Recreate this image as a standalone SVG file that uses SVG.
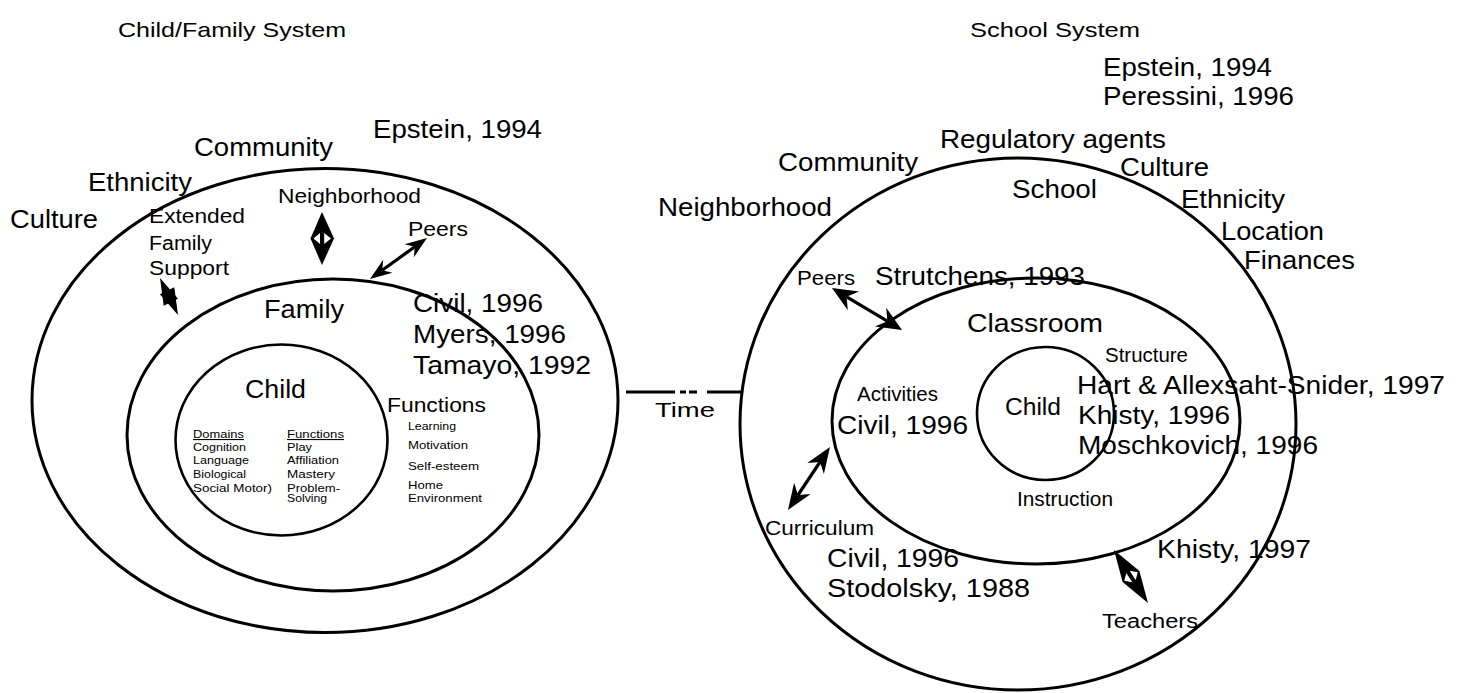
<svg xmlns="http://www.w3.org/2000/svg" width="1463" height="693" viewBox="0 0 1463 693">
  <style>
    text { font-family: "Liberation Sans", Arial, Helvetica, sans-serif; fill: #000; }
    .big { font-size: 25px; }
    .mid { font-size: 20px; }
    .sm { font-size: 11px; }
    .title { font-size: 21px; }
    .ring { fill: none; stroke: #000; stroke-width: 3; }
    .ring-thin { fill: none; stroke: #000; stroke-width: 2.6; }
    .shaft { stroke: #000; stroke-width: 3.2; fill: none; }
    .head { fill: #000; stroke: none; }
    .hole { fill: #fff; stroke: none; }
    .timeline { stroke: #000; stroke-width: 3; fill: none; }
  </style>
  <rect width="1463" height="693" fill="#fff"/>

  <!-- ===== Child / Family system (left) ===== -->
  <g id="child-family-title">
    <text class="title" x="118" y="37" textLength="228" lengthAdjust="spacingAndGlyphs">Child/Family System</text>
  </g>

  <g id="left-community">
    <ellipse class="ring" cx="325" cy="400.5" rx="293" ry="232"/>
    <text class="big" x="373" y="138" textLength="169" lengthAdjust="spacingAndGlyphs">Epstein, 1994</text>
    <text class="big" x="194" y="156" textLength="139" lengthAdjust="spacingAndGlyphs">Community</text>
    <text class="big" x="88" y="191" textLength="104" lengthAdjust="spacingAndGlyphs">Ethnicity</text>
    <text class="big" x="10" y="228" textLength="88" lengthAdjust="spacingAndGlyphs">Culture</text>
    <text class="mid" x="278" y="203" textLength="143" lengthAdjust="spacingAndGlyphs">Neighborhood</text>
    <text class="mid" x="149" y="223" textLength="96" lengthAdjust="spacingAndGlyphs">Extended</text>
    <text class="mid" x="149" y="250" textLength="63" lengthAdjust="spacingAndGlyphs">Family</text>
    <text class="mid" x="149" y="275" textLength="80" lengthAdjust="spacingAndGlyphs">Support</text>
    <text class="mid" x="408" y="236" textLength="60" lengthAdjust="spacingAndGlyphs">Peers</text>
  </g>

  <g id="left-family">
    <ellipse class="ring" cx="333" cy="435" rx="206" ry="156"/>
    <text class="big" x="264" y="318" textLength="80" lengthAdjust="spacingAndGlyphs">Family</text>
    <text class="big" x="413" y="312" textLength="130" lengthAdjust="spacingAndGlyphs">Civil, 1996</text>
    <text class="big" x="413" y="343" textLength="153" lengthAdjust="spacingAndGlyphs">Myers, 1996</text>
    <text class="big" x="413" y="374" textLength="178" lengthAdjust="spacingAndGlyphs">Tamayo, 1992</text>
    <text class="mid" x="387" y="412" textLength="99" lengthAdjust="spacingAndGlyphs">Functions</text>
    <text class="sm" x="408" y="430" textLength="48" lengthAdjust="spacingAndGlyphs">Learning</text>
    <text class="sm" x="408" y="449" textLength="60" lengthAdjust="spacingAndGlyphs">Motivation</text>
    <text class="sm" x="408" y="470" textLength="71" lengthAdjust="spacingAndGlyphs">Self-esteem</text>
    <text class="sm" x="408" y="489" textLength="35" lengthAdjust="spacingAndGlyphs">Home</text>
    <text class="sm" x="408" y="502" textLength="74" lengthAdjust="spacingAndGlyphs">Environment</text>
  </g>

  <g id="left-child">
    <ellipse class="ring-thin" cx="281.5" cy="440" rx="106" ry="95.5"/>
    <text class="big" x="245" y="398" textLength="61" lengthAdjust="spacingAndGlyphs">Child</text>
    <text class="sm" x="193" y="438" textLength="51" lengthAdjust="spacingAndGlyphs" text-decoration="underline">Domains</text>
    <text class="sm" x="193" y="451" textLength="53" lengthAdjust="spacingAndGlyphs">Cognition</text>
    <text class="sm" x="193" y="464" textLength="56" lengthAdjust="spacingAndGlyphs">Language</text>
    <text class="sm" x="193" y="478" textLength="53" lengthAdjust="spacingAndGlyphs">Biological</text>
    <text class="sm" x="193" y="492" textLength="79" lengthAdjust="spacingAndGlyphs">Social Motor)</text>
    <text class="sm" x="287" y="438" textLength="57" lengthAdjust="spacingAndGlyphs" text-decoration="underline">Functions</text>
    <text class="sm" x="287" y="451" textLength="25" lengthAdjust="spacingAndGlyphs">Play</text>
    <text class="sm" x="287" y="464" textLength="52" lengthAdjust="spacingAndGlyphs">Affiliation</text>
    <text class="sm" x="287" y="478" textLength="48" lengthAdjust="spacingAndGlyphs">Mastery</text>
    <text class="sm" x="287" y="492" textLength="53" lengthAdjust="spacingAndGlyphs">Problem-</text>
    <text class="sm" x="287" y="502" textLength="40" lengthAdjust="spacingAndGlyphs">Solving</text>
  </g>

  <!-- ===== School system (right) ===== -->
  <g id="school-title">
    <text class="title" x="970" y="37" textLength="170" lengthAdjust="spacingAndGlyphs">School System</text>
  </g>

  <g id="right-school">
    <ellipse class="ring" cx="1018" cy="424" rx="278" ry="266"/>
    <text class="big" x="1103" y="76" textLength="169" lengthAdjust="spacingAndGlyphs">Epstein, 1994</text>
    <text class="big" x="1103" y="105" textLength="191" lengthAdjust="spacingAndGlyphs">Peressini, 1996</text>
    <text class="big" x="940" y="148" textLength="226" lengthAdjust="spacingAndGlyphs">Regulatory agents</text>
    <text class="big" x="778" y="171" textLength="140" lengthAdjust="spacingAndGlyphs">Community</text>
    <text class="big" x="1120" y="176" textLength="89" lengthAdjust="spacingAndGlyphs">Culture</text>
    <text class="big" x="1012" y="198" textLength="85" lengthAdjust="spacingAndGlyphs">School</text>
    <text class="big" x="1181" y="208" textLength="104" lengthAdjust="spacingAndGlyphs">Ethnicity</text>
    <text class="big" x="658" y="216" textLength="174" lengthAdjust="spacingAndGlyphs">Neighborhood</text>
    <text class="big" x="1221" y="240" textLength="103" lengthAdjust="spacingAndGlyphs">Location</text>
    <text class="big" x="1244" y="269" textLength="111" lengthAdjust="spacingAndGlyphs">Finances</text>
    <text class="mid" x="797" y="285" textLength="58" lengthAdjust="spacingAndGlyphs">Peers</text>
    <text class="mid" x="765" y="535" textLength="109" lengthAdjust="spacingAndGlyphs">Curriculum</text>
    <text class="big" x="827" y="567" textLength="132" lengthAdjust="spacingAndGlyphs">Civil, 1996</text>
    <text class="big" x="827" y="597" textLength="203" lengthAdjust="spacingAndGlyphs">Stodolsky, 1988</text>
    <text class="big" x="1157" y="558" textLength="154" lengthAdjust="spacingAndGlyphs">Khisty, 1997</text>
    <text class="mid" x="1102" y="628" textLength="96" lengthAdjust="spacingAndGlyphs">Teachers</text>
  </g>

  <g id="right-classroom">
    <ellipse class="ring" cx="1036" cy="421" rx="204" ry="143"/>
    <text class="big" x="875" y="285" textLength="210" lengthAdjust="spacingAndGlyphs">Strutchens, 1993</text>
    <text class="big" x="967" y="332" textLength="136" lengthAdjust="spacingAndGlyphs">Classroom</text>
    <text class="mid" x="1105" y="362" textLength="83" lengthAdjust="spacingAndGlyphs">Structure</text>
    <text class="big" x="1077" y="394" textLength="368" lengthAdjust="spacingAndGlyphs">Hart &amp; Allexsaht-Snider, 1997</text>
    <text class="mid" x="857" y="401" textLength="81" lengthAdjust="spacingAndGlyphs">Activities</text>
    <text class="big" x="1078" y="424" textLength="152" lengthAdjust="spacingAndGlyphs">Khisty, 1996</text>
    <text class="big" x="837" y="434" textLength="131" lengthAdjust="spacingAndGlyphs">Civil, 1996</text>
    <text class="big" x="1078" y="454" textLength="240" lengthAdjust="spacingAndGlyphs">Moschkovich, 1996</text>
    <text class="mid" x="1017" y="506" textLength="96" lengthAdjust="spacingAndGlyphs">Instruction</text>
  </g>

  <g id="right-child">
    <ellipse class="ring-thin" cx="1045.5" cy="413.5" rx="68.5" ry="66.5"/>
    <text x="1005" y="415" font-size="23" textLength="56" lengthAdjust="spacingAndGlyphs">Child</text>
  </g>

  <!-- ===== Connectors ===== -->
  <g id="connectors">
    <!-- time link between the two systems -->
    <g id="time-link">
      <line class="timeline" x1="626" y1="392" x2="675" y2="392"/>
      <line class="timeline" x1="680" y1="392" x2="686" y2="392"/>
      <line class="timeline" x1="689" y1="392" x2="697" y2="392"/>
      <line class="timeline" x1="707" y1="392" x2="741" y2="392"/>
      <text x="655" y="417" font-size="21" textLength="60" lengthAdjust="spacingAndGlyphs">Time</text>
    </g>

    <!-- neighborhood <-> family (left) -->
    <g id="arrow-neighborhood">
      <polygon class="head" points="322,212 334,238.5 322,265 310.5,238.5"/>
      <polygon class="hole" points="313.5,238.5 320,233 320,244"/>
      <polygon class="hole" points="331,238.5 324.2,233 324.2,244"/>
    </g>

    <!-- peers <-> family (left) -->
    <g id="arrow-peers-left">
      <line class="shaft" stroke-width="2.6" x1="414.8" y1="246.8" x2="382.2" y2="270.2"/>
      <polygon class="head" points="427,238 404.5,244.3 414.8,246.8 413.8,257.3"/>
      <polygon class="head" points="370,279 383.2,259.7 382.2,270.2 392.5,272.7"/>
    </g>

    <!-- extended family support <-> family: two heads crossing into a star -->
    <g id="arrow-extended">
      <polygon class="head" points="160,278 163.7,305.8 178.1,298.8"/>
      <polygon class="head" points="178,315 174.3,287.2 159.9,294.2"/>
    </g>

    <!-- peers <-> classroom (right) -->
    <g id="arrow-peers-right">
      <line class="shaft" x1="846.6" y1="296.8" x2="887.4" y2="321.2"/>
      <polygon class="head" points="832,288 847.8,310.3 846.6,296.8 859.1,291.4"/>
      <polygon class="head" points="902,330 874.9,326.5 887.4,321.2 886.2,307.7"/>
    </g>

    <!-- curriculum <-> classroom -->
    <g id="arrow-curriculum">
      <line class="shaft" x1="820" y1="462" x2="798" y2="495"/>
      <polygon class="head" points="830,447 807.3,463 820,462 823.9,474.1"/>
      <polygon class="head" points="788,510 794.1,482.8 798,495 810.7,493.9"/>
    </g>

    <!-- teachers <-> classroom -->
    <g id="arrow-teachers">
      <polygon class="head" points="1114,550 1139.4,571.1 1148,603 1122.6,581.9"/>
      <polygon class="hole" points="1124.3,580.8 1132.3,582.2 1126.3,573"/>
      <polygon class="hole" points="1137.7,572.2 1135.7,580 1129.7,570.8"/>
    </g>
  </g>
</svg>
